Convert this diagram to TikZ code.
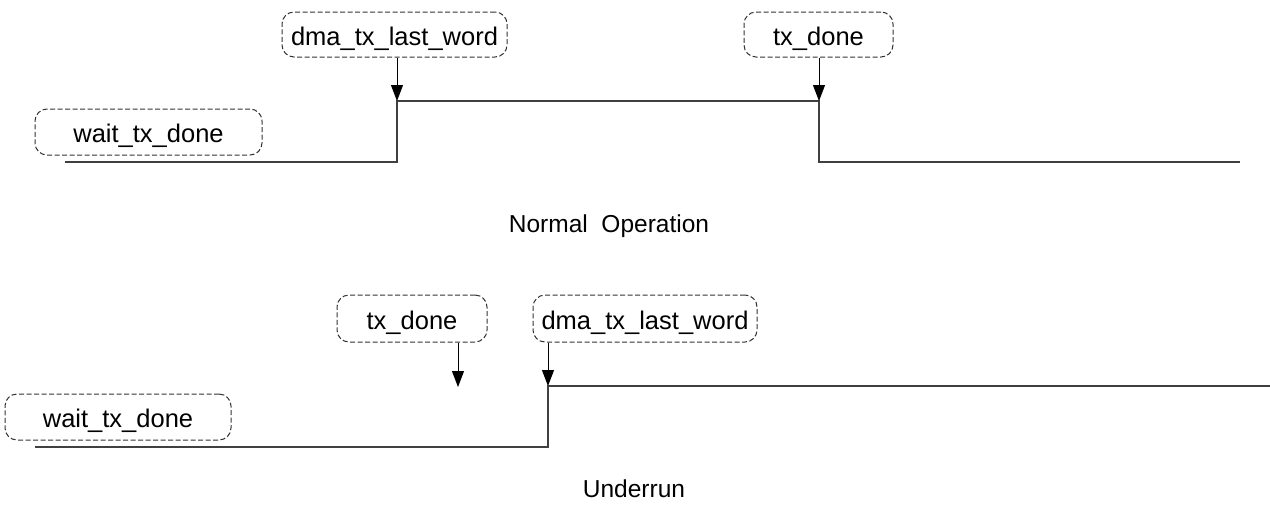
\documentclass[tikz,border=0pt]{standalone}
\usepackage{fontspec}
\setmainfont{Liberation Sans}
\usetikzlibrary{arrows.meta}
\begin{document}
\begin{tikzpicture}[x=1pt,y=-1pt,
  state/.style={draw=black!80, dash pattern=on 5pt off 2.5pt, line width=1pt, rounded corners=12pt,
    inner sep=0pt, text height=21pt, text depth=0pt, minimum height=45pt, font=\fontsize{25.5}{29}\selectfont},
  ev/.style={-{Triangle[length=16pt,width=12pt]}, line width=0.9pt, black},
  sig/.style={line width=1.3pt, black!75},
  lbl/.style={anchor=base, font=\fontsize{24.5}{28}\selectfont}]
\useasboundingbox (0,0) rectangle (1270,515);
% top: normal operation
\node[state, minimum width=225pt] (dmaA) at (394.5,34.5) {dma\_tx\_last\_word};
\node[state, minimum width=149pt] (txA) at (818.5,34.5) {tx\_done};
\node[state, minimum width=227pt, minimum height=46pt] (waitA) at (148.5,132) {wait\_tx\_done};
\coordinate (a0) at (65,162);
\coordinate (a1) at (397,162);
\coordinate (a2) at (397,101);
\coordinate (a3) at (819,101);
\coordinate (a4) at (819,162);
\coordinate (a5) at (1240,162);
\draw[sig] (a0) -- (a1) -- (a2) -- (a3) -- (a4) -- (a5);
\draw[ev] (dmaA.south -| a2) -- (a2);
\draw[ev] (txA.south -| a3) -- (a3);
\node[lbl] (titleA) at (609,232) {Normal\ \ Operation};
% bottom: underrun
\node[state, minimum width=150pt, minimum height=47pt] (txB) at (412,318.5) {tx\_done};
\node[state, minimum width=224pt, minimum height=47pt] (dmaB) at (645,318.5) {dma\_tx\_last\_word};
\node[state, minimum width=226pt, minimum height=46pt] (waitB) at (118,417) {wait\_tx\_done};
\coordinate (b0) at (35,447);
\coordinate (b1) at (548,447);
\coordinate (b2) at (548,386);
\coordinate (b3) at (1270,386);
\coordinate (t2) at (458,387);
\draw[sig] (b0) -- (b1) -- (b2) -- (b3);
\draw[ev] (txB.south -| t2) -- (t2);
\draw[ev] (dmaB.south -| b2) -- (b2);
\node[lbl] (titleB) at (634,497) {Underrun};
\end{tikzpicture}
\end{document}
